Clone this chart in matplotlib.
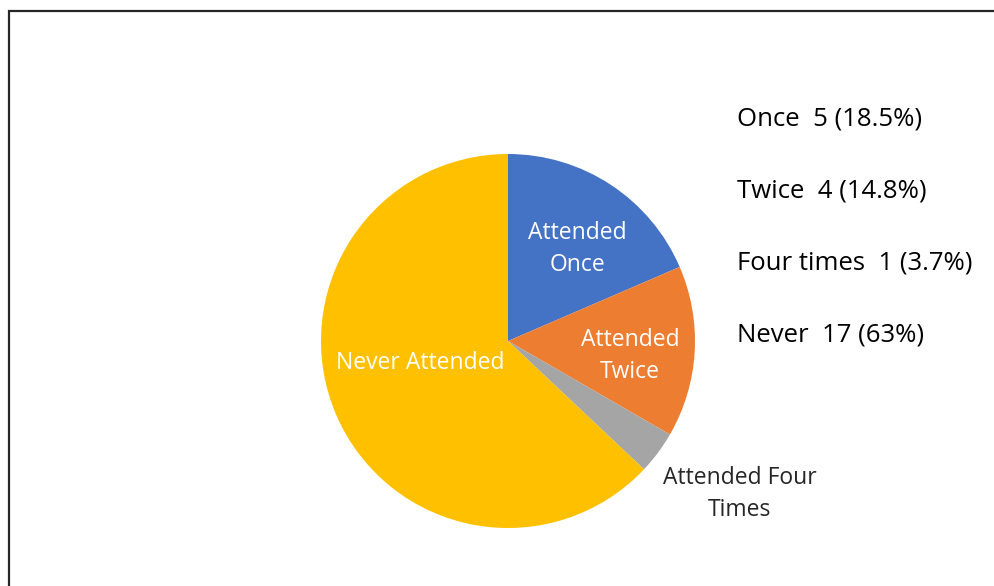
import matplotlib
matplotlib.use("Agg")
import matplotlib.pyplot as plt
from matplotlib.patches import Rectangle

# data
categories = ["Attended\nOnce", "Attended\nTwice", "Attended Four\nTimes", "Never Attended"]
short_names = ["Once", "Twice", "Four times", "Never"]
counts = [5, 4, 1, 17]
percent_labels = ["18.5%", "14.8%", "3.7%", "63%"]
colors = ["#4472C4", "#ED7D31", "#A5A5A5", "#FFC000"]

plt.rcParams["font.family"] = ["Open Sans", "DejaVu Sans"]

fig = plt.figure(figsize=(9.94, 5.86), dpi=100, facecolor="white")

# outer frame (right and bottom edges sit off the canvas)
fig.patches.append(
    Rectangle((8.5 / 994, -0.1), 1.2, 1 - 11 / 586 + 0.1,
              transform=fig.transFigure, fill=False,
              edgecolor="#262626", linewidth=1.6)
)

ax = fig.add_axes([321 / 994, 58 / 586, 374 / 994, 374 / 586])
ax.pie(counts, colors=colors, startangle=90, counterclock=False,
       radius=1.0, wedgeprops=dict(linewidth=0))
ax.set_xlim(-1, 1)
ax.set_ylim(-1, 1)
ax.set_aspect("equal")
ax.axis("off")

# slice labels (positions in pie units)
label_pos = [(0.369, 0.49), (0.652, -0.08), (1.24, -0.82), (-0.47, -0.115)]
label_color = ["white", "white", "#262626", "white"]
for text, (x, y), c in zip(categories, label_pos, label_color):
    ax.text(x, y, text, ha="center", va="center", color=c,
            fontsize=16.5, linespacing=1.45, clip_on=False)

# side annotations
for i, (name, n, pct) in enumerate(zip(short_names, counts, percent_labels)):
    fig.text(737 / 994, 1 - (119 + 72 * i) / 586, f"{name}  {n} ({pct})",
             ha="left", va="center", color="black", fontsize=18.5)

fig.savefig("out.png", dpi=100, facecolor="white")
